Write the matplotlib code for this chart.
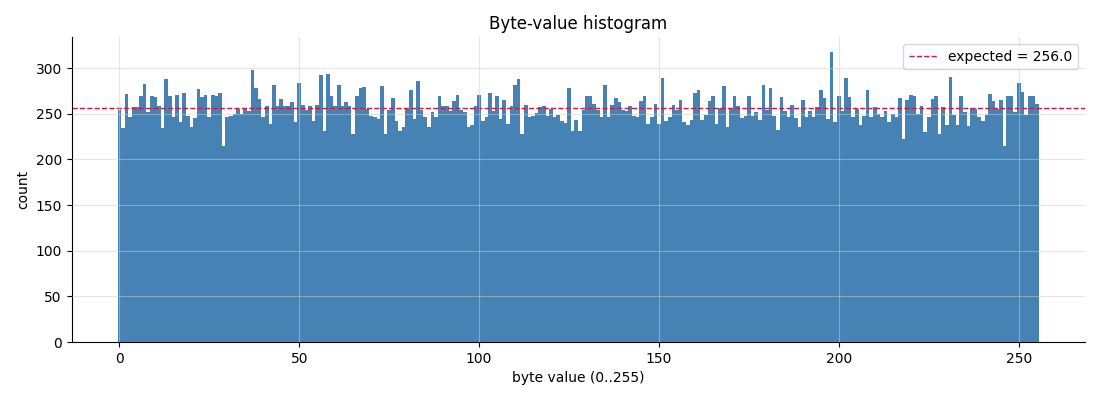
import matplotlib
matplotlib.use("Agg")
from matplotlib import pyplot as plt

# counts, one per byte value 0..255
comptes = [
    254, 234, 272, 247, 257, 257, 269, 283, 252, 269, 268, 258, 234, 288, 269, 247,
    271, 241, 273, 248, 236, 245, 277, 268, 271, 247, 271, 270, 273, 215, 247, 248,
    250, 255, 250, 256, 253, 298, 278, 266, 247, 259, 239, 281, 259, 266, 258, 258,
    263, 241, 284, 260, 254, 259, 242, 260, 292, 231, 294, 270, 258, 281, 258, 263,
    258, 228, 269, 278, 279, 255, 248, 247, 244, 280, 228, 254, 267, 242, 231, 236,
    255, 276, 244, 286, 254, 247, 235, 252, 246, 270, 259, 259, 253, 264, 271, 254,
    252, 236, 238, 258, 271, 242, 247, 273, 253, 270, 244, 265, 239, 258, 282, 288,
    228, 260, 246, 248, 251, 257, 259, 248, 255, 246, 249, 242, 240, 278, 231, 243,
    231, 254, 270, 269, 261, 254, 246, 281, 247, 260, 267, 263, 254, 253, 258, 248,
    246, 264, 270, 239, 247, 261, 239, 289, 242, 247, 260, 254, 265, 241, 238, 243,
    273, 276, 243, 249, 264, 270, 239, 256, 280, 235, 256, 270, 258, 245, 248, 270,
    248, 252, 243, 281, 254, 278, 248, 232, 268, 253, 247, 260, 245, 236, 265, 247,
    253, 247, 257, 276, 267, 244, 318, 241, 269, 253, 289, 268, 247, 255, 238, 248,
    276, 246, 257, 250, 246, 253, 241, 250, 246, 267, 222, 265, 271, 270, 250, 258,
    230, 247, 266, 269, 228, 257, 238, 290, 249, 238, 270, 252, 237, 256, 255, 246,
    242, 249, 272, 264, 255, 265, 215, 270, 270, 252, 284, 274, 249, 270, 269, 261,
]
octets = list(range(256))
attendu = 256.0

fig, ax = plt.subplots(figsize=(11, 4), dpi=100)
fig.subplots_adjust(left=0.065, right=0.986, top=0.907, bottom=0.145)

ax.bar(octets, comptes, width=1.0, color="steelblue", linewidth=0)
ax.axhline(attendu, color="crimson", linestyle="--", linewidth=1,
           label="expected = %.1f" % attendu)

ax.grid(True, color="#cccccc", alpha=0.5, linewidth=0.8)
ax.set_axisbelow(False)
ax.spines["top"].set_visible(False)
ax.spines["right"].set_visible(False)

ax.set_title("Byte-value histogram")
ax.set_xlabel("byte value (0..255)")
ax.set_ylabel("count")
ax.legend(loc="upper right")

fig.savefig("out.png")
